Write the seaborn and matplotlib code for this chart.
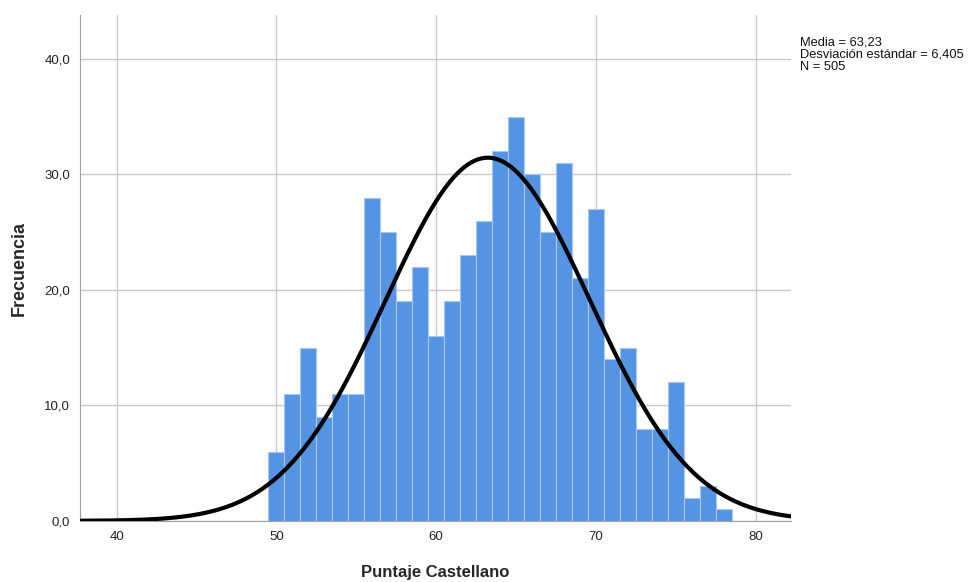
import numpy as np
import pandas as pd
import seaborn as sns
import matplotlib.pyplot as plt
from matplotlib.ticker import FuncFormatter

# Datos: puntaje y frecuencia
puntajes = [50, 51, 52, 53, 54, 55, 56, 57, 58, 59, 60, 61, 62, 63, 64,
            65, 66, 67, 68, 69, 70, 71, 72, 73, 74, 75, 76, 77, 78]
frecuencias = [6, 11, 15, 9, 11, 11, 28, 25, 19, 22, 16, 19, 23, 26, 32,
               35, 30, 25, 31, 21, 27, 14, 15, 8, 8, 12, 2, 3, 1]
media = 63.23
desv = 6.405
n = 505

df = pd.DataFrame({"Puntaje": puntajes, "Frecuencia": frecuencias})

sns.set_style("white")
plt.rcParams["font.family"] = ["Liberation Sans", "DejaVu Sans"]

fig = plt.figure(figsize=(9.74, 5.82), dpi=100)
ax = fig.add_axes([0.082, 0.105, 0.730, 0.869])

# Histograma
sns.histplot(data=df, x="Puntaje", weights="Frecuencia", discrete=True,
             color="#5594e3", alpha=1, edgecolor="#a9c8f0", linewidth=0.8,
             ax=ax, zorder=2)

# Curva normal
xs = np.linspace(37.7, 82.2, 400)
ys = n * np.exp(-0.5 * ((xs - media) / desv) ** 2) / (desv * np.sqrt(2 * np.pi))
sns.lineplot(x=xs, y=ys, color="black", linewidth=3, ax=ax, zorder=3)

ax.set_xlim(37.7, 82.2)
ax.set_ylim(0, 43.8)
ax.set_xticks([40, 50, 60, 70, 80])
ax.set_yticks([0, 10, 20, 30, 40])
ax.yaxis.set_major_formatter(FuncFormatter(lambda v, p: f"{v:.1f}".replace(".", ",")))
ax.grid(True, color="#c8c8c8", linewidth=1, zorder=0)
ax.set_axisbelow(True)
for s in ["top", "right"]:
    ax.spines[s].set_visible(False)
for s in ["left", "bottom"]:
    ax.spines[s].set_color("#a0a0a0")
ax.tick_params(axis="both", length=0, labelsize=9.5, colors="#222222", pad=7)

ax.set_xlabel("Puntaje Castellano", fontsize=12, fontweight="bold", labelpad=16)
ax.set_ylabel("Frecuencia", fontsize=13, fontweight="bold", labelpad=12)

fig.text(0.821, 0.937, "Media = 63,23\nDesviación estándar = 6,405\nN = 505",
         fontsize=9.3, va="top", ha="left", linespacing=1.0, color="#111111")

fig.savefig("out.png", dpi=100)
